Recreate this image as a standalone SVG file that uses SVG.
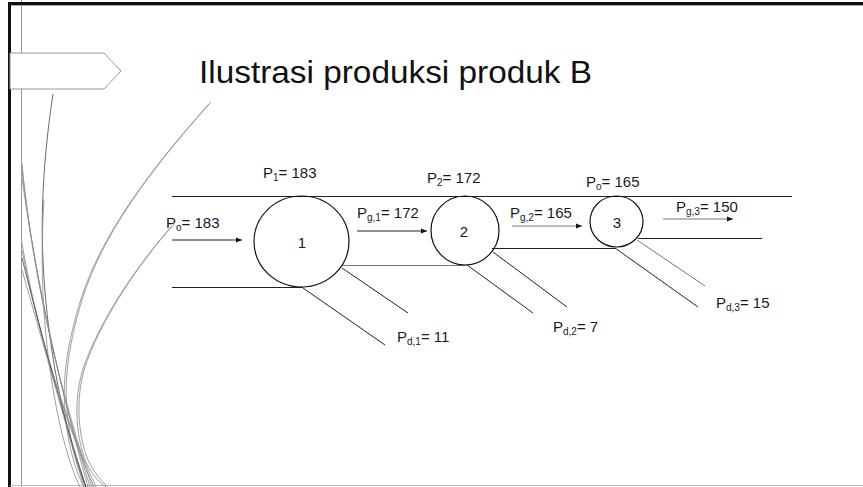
<svg xmlns="http://www.w3.org/2000/svg" width="863" height="487" viewBox="0 0 863 487">
<style>
.t{font-family:"Liberation Sans",Arial,sans-serif;font-size:15px;fill:#1a1a1a}
.s{font-size:10px}
.ln{stroke:#222;stroke-width:1;fill:none}
.lg{stroke:#777;stroke-width:1;fill:none}
.nd{stroke:#111;stroke-width:1.2;fill:none}
.dc{stroke:#888;stroke-width:0.8;fill:none}
.dk{stroke:#444;stroke-width:0.8;fill:none}
</style>
<defs>
<marker id="ah" markerWidth="7" markerHeight="6" refX="6" refY="3" orient="auto" markerUnits="userSpaceOnUse">
<path d="M0,0.5 L6,3 L0,5.5 Z" fill="#111"/>
</marker>
</defs>
<rect width="863" height="487" fill="#fff"/>
<g id="frame">
<line x1="21.5" y1="0" x2="21.5" y2="487" stroke="#999" stroke-width="1"/>
<rect x="8" y="2" width="855" height="3" fill="#111"/>
<line x1="9" y1="5.5" x2="863" y2="5.5" stroke="#aaa" stroke-width="1"/>
<rect x="8" y="2" width="3" height="485" fill="#111"/>
<line x1="10" y1="485.5" x2="863" y2="485.5" stroke="#bbb" stroke-width="1"/>
<path d="M10,53 H104 L121,71 L104,89 H10 Z" fill="#fff" stroke="#999" stroke-width="1"/>
</g>
<g id="decor">
<path class="dc" d="M211,102 C150,170 102,235 82,300 C70,340 64,375 67,410 C70,445 78,470 86,487"/>
<path class="dc" d="M209,104 C148,172 100,237 80,302 C68,342 62,377 65,412 C68,447 76,472 84,487"/>
<path class="dc" d="M174,224 C140,262 100,320 84,370 C76,400 78,430 86,455 C92,470 100,480 108,487"/>
<path class="dc" d="M172,226 C138,264 98,322 82,372 C74,402 76,432 84,457 C90,472 98,482 106,487"/>
<path class="dk" d="M53,94 C46,140 40,200 43,260 C46,330 60,420 86,487"/>
<path class="dc" d="M44,200 C40,260 42,330 55,400 C62,440 72,470 80,487"/>
<path class="dc" d="M22,163 C30,250 50,360 92,487"/>
<path class="dc" d="M22,170 C32,255 52,365 90,487"/>
<path class="dc" d="M22,178 C33,260 55,370 88,487"/>
<path class="dc" d="M22,243 C35,320 60,410 96,487"/>
<path class="dc" d="M22,250 C37,325 62,415 94,487"/>
<path class="dk" d="M22,258 C40,330 64,420 86,487"/>
<path class="dc" d="M22,270 C42,340 66,425 84,487"/>
</g>
<g id="title">
<text x="199" y="83" font-family="Liberation Sans, Arial, sans-serif" font-size="32" fill="#111" textLength="393" lengthAdjust="spacingAndGlyphs">Ilustrasi produksi produk B</text>
</g>
<g id="connectors">
<line class="ln" x1="172" y1="196.5" x2="792" y2="196.5"/>
<line class="ln" x1="172" y1="287.5" x2="303" y2="287.5"/>
<line class="lg" x1="343" y1="265.5" x2="466" y2="265.5" stroke-width="1.5"/>
<line class="ln" x1="492" y1="248.5" x2="616" y2="248.5"/>
<line class="ln" x1="638" y1="238.5" x2="762" y2="238.5"/>
<line class="ln" x1="172" y1="240" x2="242" y2="240" marker-end="url(#ah)"/>
<line class="ln" x1="357" y1="231" x2="427" y2="231" marker-end="url(#ah)"/>
<line class="lg" x1="512" y1="226" x2="582" y2="226" marker-end="url(#ah)"/>
<line class="lg" x1="663" y1="219" x2="733" y2="219" marker-end="url(#ah)"/>
<line class="ln" x1="303" y1="288" x2="385" y2="345"/>
<line class="ln" x1="342" y1="268" x2="408" y2="313"/>
<line class="ln" x1="467" y1="265" x2="533" y2="313"/>
<line class="ln" x1="493" y1="252" x2="567" y2="307"/>
<line class="ln" x1="615" y1="248" x2="698" y2="307"/>
<line class="lg" x1="637" y1="240" x2="705" y2="286"/>
</g>
<g id="node1">
<ellipse class="nd" cx="301.5" cy="241.5" rx="47.5" ry="45.5"/>
<text class="t" x="302" y="248" text-anchor="middle">1</text>
</g>
<g id="node2">
<ellipse class="nd" cx="465" cy="230.5" rx="34" ry="34.5"/>
<text class="t" x="464" y="237" text-anchor="middle">2</text>
</g>
<g id="node3">
<ellipse class="nd" cx="616.5" cy="221.5" rx="26.5" ry="25.5"/>
<text class="t" x="617" y="228" text-anchor="middle">3</text>
</g>
<g id="labels">
<text class="t" x="263" y="178">P<tspan class="s" dy="3">1</tspan><tspan dy="-3">= 183</tspan></text>
<text class="t" x="427" y="183">P<tspan class="s" dy="3">2</tspan><tspan dy="-3">= 172</tspan></text>
<text class="t" x="586" y="187">P<tspan class="s" dy="3">o</tspan><tspan dy="-3">= 165</tspan></text>
<text class="t" x="166" y="228">P<tspan class="s" dy="3">o</tspan><tspan dy="-3">= 183</tspan></text>
<text class="t" x="357" y="218">P<tspan class="s" dy="3">g,1</tspan><tspan dy="-3">= 172</tspan></text>
<text class="t" x="510" y="218">P<tspan class="s" dy="3">g,2</tspan><tspan dy="-3">= 165</tspan></text>
<text class="t" x="676" y="212">P<tspan class="s" dy="3">g,3</tspan><tspan dy="-3">= 150</tspan></text>
<text class="t" x="397" y="342">P<tspan class="s" dy="3">d,1</tspan><tspan dy="-3">= 11</tspan></text>
<text class="t" x="553" y="332">P<tspan class="s" dy="3">d,2</tspan><tspan dy="-3">= 7</tspan></text>
<text class="t" x="716" y="308">P<tspan class="s" dy="3">d,3</tspan><tspan dy="-3">= 15</tspan></text>
</g>
</svg>
